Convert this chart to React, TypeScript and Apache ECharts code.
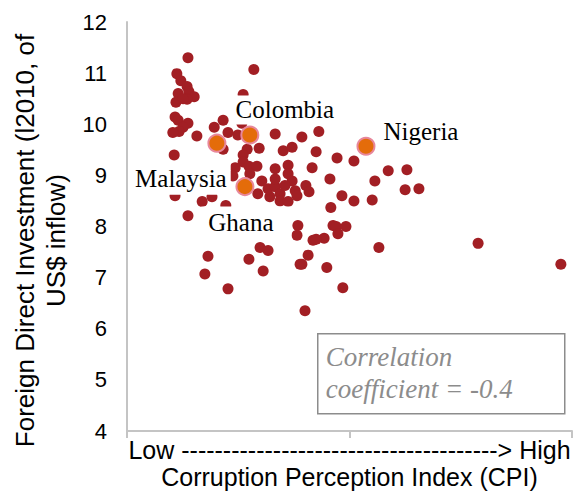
import React, { useEffect, useRef } from "react";
import * as echarts from "echarts";

// Corruption Perception Index position (0 = low, 10 = high) of the other countries
const cpiOther = [
  1.37, 2.85, 1.12, 1.21, 1.35, 1.15, 1.39, 1.51, 1.35, 1.10,
  1.26, 2.61, 1.08, 1.15, 1.37, 1.26, 1.17, 1.03, 1.57, 1.96,
  2.16, 2.27, 2.16, 2.49, 2.58, 2.70, 2.97, 3.33, 3.93, 4.31,
  3.51, 3.71, 4.25, 1.06, 2.61, 4.72, 5.10, 2.61, 2.43, 2.74,
  2.92, 2.38, 2.76, 3.33, 3.62, 3.62, 4.16, 4.56, 5.87, 6.29,
  5.57, 6.25, 6.56, 4.02, 4.09, 3.71, 3.78, 3.82, 4.83, 5.10,
  5.51, 4.58, 2.94, 3.21, 3.17, 3.33, 3.44, 3.55, 3.44, 3.62,
  3.03, 3.33, 1.08, 1.69, 1.91, 2.22, 1.37, 3.84, 3.82, 4.63,
  4.70, 4.92, 4.74, 4.43, 4.18, 4.25, 5.66, 4.07, 3.89, 3.93,
  4.49, 4.85, 4.00, 1.82, 1.75, 2.27, 2.74, 3.06, 2.99, 3.17,
  7.89, 9.75,
];

// Foreign Direct Investment (log of 2010 US$ inflow) of the other countries
const fdiOther = [
  11.30, 11.07, 10.99, 10.85, 10.74, 10.60, 10.64, 10.54, 10.49, 10.43,
  10.50, 10.58, 10.14, 10.08, 10.02, 9.94, 9.86, 9.84, 9.77, 9.94,
  10.08, 9.84, 9.51, 9.79, 10.02, 9.51, 9.53, 9.81, 9.75, 9.86,
  9.48, 9.55, 9.46, 9.40, 9.40, 9.34, 9.28, 9.26, 9.15, 9.18,
  9.18, 8.99, 9.03, 9.13, 9.20, 9.03, 9.15, 8.93, 9.09, 9.11,
  8.89, 8.72, 8.74, 8.80, 8.68, 8.89, 8.70, 8.60, 8.60, 8.50,
  8.52, 8.37, 8.64, 8.58, 8.74, 8.78, 8.64, 8.80, 8.50, 8.49,
  8.89, 8.93, 8.60, 8.49, 8.58, 8.41, 8.21, 8.02, 7.83, 8.02,
  8.00, 8.00, 7.86, 7.77, 7.73, 7.75, 7.59, 7.44, 7.26, 7.26,
  7.20, 6.80, 6.35, 7.42, 7.07, 6.78, 7.36, 7.13, 7.59, 7.53,
  7.67, 7.26,
];

// Highlighted countries
const highlightNames = ["Malaysia", "Colombia", "Ghana", "Nigeria"];
const highlightCpi = [2.02, 2.76, 2.65, 5.37];
const highlightFdi = [9.63, 9.79, 8.78, 9.57];

const xAxisLine1 = "Low --------------------------------------> High";
const xAxisLine2 = "Corruption Perception Index (CPI)";
const yAxisLine1 = "Foreign Direct Investment (l2010, of";
const yAxisLine2 = "US$ inflow)";
const correlationText = "Correlation\ncoefficient = -0.4";

const labelPlacement: Record<string, { offset: number[]; padding: number[] }> = {
  Malaysia: { offset: [-36, 35], padding: [4, 4, 4, 4] },
  Colombia: { offset: [35, -25], padding: [2, 4, 2, 4] },
  Ghana: { offset: [1.5, 36], padding: [4, 18, 3, 7] },
  Nigeria: { offset: [55, -15], padding: [2, 4, 2, 4] },
};

export default function App() {
  const ref = useRef<HTMLDivElement>(null);

  useEffect(() => {
    if (!ref.current) return;
    const chart = echarts.init(ref.current, undefined, { renderer: "svg" });
    const axisGray = "#c4c4c4";
    chart.setOption({
      animation: false,
      backgroundColor: "#ffffff",
      grid: { left: 127, right: 9, top: 22, bottom: 62, containLabel: false },
      xAxis: {
        type: "value",
        min: 0,
        max: 10,
        interval: 5,
        splitLine: { show: false },
        axisLine: { show: true, lineStyle: { color: axisGray, width: 2 } },
        axisTick: { show: true, inside: false, length: 7, lineStyle: { color: axisGray, width: 2 } },
        axisLabel: { show: false },
        name: xAxisLine1 + "\n" + xAxisLine2,
        nameLocation: "middle",
        nameGap: 5,
        nameTextStyle: {
          fontFamily: "Liberation Sans",
          fontSize: 25,
          lineHeight: 27,
          color: "#000",
          verticalAlign: "top",
        },
      },
      yAxis: {
        type: "value",
        min: 4,
        max: 12,
        interval: 1,
        splitLine: { show: false },
        axisLine: { show: true, lineStyle: { color: axisGray, width: 2 } },
        axisTick: { show: false },
        axisLabel: {
          margin: 20,
          fontFamily: "Liberation Sans",
          fontSize: 22,
          color: "#000",
        },
        name: yAxisLine1 + "\n" + yAxisLine2,
        nameLocation: "middle",
        nameRotate: 90,
        nameGap: 55,
        nameTextStyle: {
          fontFamily: "Liberation Sans",
          fontSize: 26,
          lineHeight: 31,
          color: "#000",
          padding: [0, 28, 0, 0],
        },
      },
      series: [
        {
          type: "scatter",
          z: 2,
          silent: true,
          symbolSize: 11,
          itemStyle: { color: "#A21F24", opacity: 1 },
          data: cpiOther.map((x, i) => [x, fdiOther[i]]),
        },
        {
          type: "scatter",
          z: 3,
          silent: true,
          symbolSize: 17,
          itemStyle: { color: "#E46C0A", borderColor: "#E8879B", borderWidth: 2, opacity: 1 },
          label: {
            show: true,
            formatter: "{b}",
            position: "inside",
            align: "center",
            verticalAlign: "middle",
            fontFamily: "Liberation Serif",
            fontSize: 25,
            lineHeight: 25,
            color: "#000",
            opacity: 1,
            backgroundColor: "#ffffff",
          },
          data: highlightNames.map((n, i) => ({
            name: n,
            value: [highlightCpi[i], highlightFdi[i]],
            label: { offset: labelPlacement[n].offset, padding: labelPlacement[n].padding },
          })),
        },
      ],
      graphic: [
        {
          type: "group",
          left: 317,
          top: 333,
          z: 10,
          children: [
            {
              type: "rect",
              shape: { x: 0, y: 0, width: 247, height: 80 },
              style: { fill: "#ffffff", stroke: "#8c8c8c", lineWidth: 1.5 },
            },
            {
              type: "text",
              x: 8,
              y: 7,
              style: {
                text: correlationText,
                fontFamily: "Liberation Serif",
                fontStyle: "italic",
                fontSize: 27,
                lineHeight: 32,
                fill: "#8c8c8c",
                verticalAlign: "top",
              },
            },
          ],
        },
      ],
    });
    return () => chart.dispose();
  }, []);

  return (
    <div
      ref={ref}
      style={{ position: "fixed", left: 0, top: 0, width: 581, height: 495, background: "#fff" }}
    />
  );
}
